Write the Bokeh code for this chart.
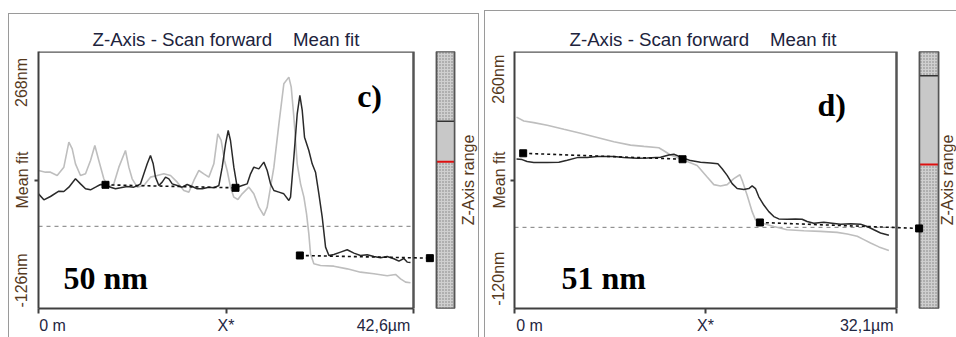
import math
from bokeh.plotting import figure
from bokeh.layouts import row
from bokeh.models import Range1d, FixedTicker, Title, InlineStyleSheet
from bokeh.core.properties import value
from bokeh.embed import file_html
from bokeh.resources import INLINE

# ---------------- data: panel c ----------------
c_title = "Z-Axis - Scan forward\u00a0\u00a0\u00a0\u00a0Mean fit"
c_x_max = 42.6
c_y_min, c_y_max = -126, 268
c_x_tick_labels = ["0 m", "X*", "42,6µm"]
c_x_label_pos = [1.6, 21.3, 39.2]
c_y_tick_labels = ["268nm", "Mean fit", "-126nm"]
c_y_label_pos = [220.5, 71.0, -83.0]
c_black_x = [0.0, 0.61, 1.36, 2.31, 2.88, 3.45, 4.20, 4.77, 5.34, 5.91, 6.48, 7.04, 7.61, 8.18, 8.75,
             9.32, 10.07, 10.83, 11.21, 11.59, 11.97, 12.35, 12.72, 13.03, 13.29, 13.67, 14.05, 14.43,
             14.81, 15.19, 15.76, 16.32, 16.89, 17.46, 18.03, 18.60, 19.35, 19.92, 20.49, 20.87, 21.25,
             21.55, 21.81, 22.19, 22.57, 23.14, 23.71, 24.09, 24.46, 25.03, 25.60, 25.98, 26.36, 26.74,
             27.31, 27.87, 28.44, 28.63, 29.01, 29.39, 29.69, 29.96, 30.22, 30.71, 31.09, 31.47, 31.85,
             32.23, 32.61, 32.99, 33.55, 34.31, 35.07, 35.83, 36.58, 37.34, 38.10, 38.86, 39.61, 40.37,
             40.94, 41.51, 41.88, 42.26]
c_black_y = [49.8, 40.6, 45.7, 53.9, 53.4, 60.0, 72.8, 65.1, 57.5, 55.9, 60.0, 64.1, 63.6, 60.0, 57.5,
             59.0, 61.1, 60.0, 62.1, 65.1, 80.5, 95.8, 108.6, 95.8, 75.4, 62.6, 67.7, 75.4,
             72.8, 65.1, 62.6, 60.0, 64.1, 61.1, 57.5, 57.5, 60.0, 59.0, 62.6, 90.7, 126.5,
             146.9, 131.6, 90.7, 60.0, 62.6, 65.1, 80.5, 90.7, 88.1, 98.4, 85.6, 65.1, 54.9,
             52.4, 49.8, 39.6, 44.7, 106.0, 172.5, 200.6, 177.6, 136.7, 116.2, 95.8, 83.0, 49.8,
             14.0, -31.9, -44.7, -43.2, -39.6, -36.0, -41.1, -44.7, -43.7, -46.3, -48.3, -46.3, -49.8,
             -53.4, -49.3, -54.9, -55.4]
c_gray_x = [0.0, 0.80, 1.36, 2.12, 2.88, 3.45, 3.83, 4.20, 4.77, 5.34, 5.91, 6.40, 6.85, 7.42, 7.99,
            8.56, 9.13, 9.88, 10.26, 10.64, 11.21, 11.97, 12.72, 13.48, 14.24, 15.00, 15.76, 16.51,
            17.08, 17.65, 18.22, 18.78, 19.35, 19.92, 20.37, 20.75, 21.13, 21.43, 21.81, 22.19, 22.65,
            23.14, 23.90, 24.46, 25.03, 25.60, 25.98, 26.36, 26.74, 27.31, 27.87, 28.44, 28.71, 29.01,
            29.39, 29.77, 30.15, 30.45, 30.71, 30.90, 31.28, 32.04, 33.55, 35.07, 36.58, 38.10, 39.61,
            40.56, 41.13, 41.70, 42.26]
c_gray_y = [85.6, 83.0, 83.0, 77.9, 90.7, 129.0, 118.8, 95.8, 77.9, 80.5, 100.9, 123.9, 100.9, 72.8, 60.0,
            65.1, 90.7, 116.2, 90.7, 72.8, 60.0, 62.6, 75.4, 77.9, 80.5, 77.9, 67.7, 54.9,
            52.4, 70.3, 85.6, 80.5, 75.4, 95.8, 141.8, 131.6, 100.9, 85.6, 60.0, 44.7, 41.1,
            49.8, 60.0, 49.8, 29.4, 16.6, 29.4, 60.0, 90.7, 157.1, 218.4, 228.7, 213.3, 167.3,
            95.8, 65.1, 44.7, 19.2, -11.5, -42.2, -57.5, -60.1, -61.1, -65.2, -70.3, -72.8, -75.9,
            -73.8, -80.5, -85.6, -86.6]
c_fit_upper_x = [7.61, 22.38]
c_fit_upper_y = [63.6, 59.0]
c_fit_lower_x = [29.69, 44.46]
c_fit_lower_y = [-44.7, -48.8]
c_zrange = [99.0, 161.0]
c_tag, c_tag_pos = "c)", (36.2, 200.5)
c_step, c_step_pos = "50 nm", (2.84, -78.5)

# ---------------- data: panel d ----------------
d_title = "Z-Axis - Scan forward\u00a0\u00a0\u00a0\u00a0Mean fit"
d_x_max = 32.1
d_y_min, d_y_max = -120, 260
d_x_tick_labels = ["0 m", "X*", "32,1µm"]
d_x_label_pos = [1.26, 16.05, 29.6]
d_y_tick_labels = ["260nm", "Mean fit", "-120nm"]
d_y_label_pos = [219.0, 70.0, -76.0]
d_black_x = [0.17, 0.64, 1.06, 1.62, 2.75, 3.73, 4.43, 5.27, 6.11, 6.95, 8.35, 9.19, 10.31, 11.15,
             12.27, 12.97, 13.39, 13.81, 14.23, 14.79, 15.63, 16.47, 17.09, 17.45, 17.87, 18.29,
             18.71, 19.27, 19.69, 19.97, 20.25, 20.53, 20.95, 21.37, 21.79, 22.21, 22.91, 23.61,
             24.17, 24.59, 25.15, 25.99, 26.69, 27.40, 28.24, 29.08, 29.64, 30.20, 30.76, 31.46]
d_black_y = [101.2, 100.2, 97.3, 95.8, 95.8, 96.3, 99.2, 103.1, 103.1, 104.6, 104.6, 103.1, 102.1, 102.6,
             103.6, 107.0, 108.0, 105.1, 102.1, 98.7, 96.3, 95.3, 93.9, 86.6, 76.8, 64.6,
             57.3, 55.9, 57.3, 61.2, 57.3, 45.1, 33.0, 23.2, 15.9, 12.5, 12.0, 12.5,
             12.0, 8.6, 6.2, 7.6, 6.2, 4.7, 5.2, 4.7, 1.3, -3.6, -8.4, -11.8]
d_gray_x = [0.17, 0.78, 1.62, 2.75, 4.15, 5.55, 6.95, 8.35, 9.75, 10.87, 12.13, 12.55, 13.11, 13.67,
            14.51, 15.35, 16.19, 16.75, 17.31, 17.87, 18.43, 18.94, 19.13, 19.55, 19.97, 20.25,
            20.81, 21.79, 22.91, 24.31, 25.71, 27.11, 27.96, 28.80, 29.36, 29.92, 30.62, 31.46]
d_gray_y = [163.0, 157.2, 154.8, 150.9, 145.0, 139.2, 132.9, 126.5, 121.6, 119.7, 117.7, 113.3, 107.0, 103.1,
            97.3, 91.4, 74.4, 63.2, 61.2, 63.2, 72.0, 77.8, 69.5, 47.6, 23.2, 11.1,
            6.2, 1.3, -3.6, -5.0, -6.0, -7.5, -9.9, -13.3, -18.2, -23.1, -28.9, -34.3]
d_fit_upper_x = [0.73, 14.12]
d_fit_upper_y = [109.5, 100.7]
d_fit_lower_x = [20.62, 34.00]
d_fit_lower_y = [7.2, -1.6]
d_zrange = [93.0, 224.0]
d_tag, d_tag_pos = "d)", (25.46, 181.0)
d_step, d_step_pos = "51 nm", (3.95, -74.7)

zero_level = 0.0

# ---------------- styling / layout ----------------
FONT = "Liberation Sans"
SERIF = "Liberation Serif"
LABEL_Y_COLOR = "#55391d"
LABEL_X_COLOR = "#1f2742"
TITLE_COLOR = "#20233d"
AXIS_COLOR = "#404040"
H = 337


def panel(W, left, top, box_px, frame_px, bar_px, zlabel_px, title_offset, y_standoff, frame_css,
          title, x_max, y_min, y_max, xlab_pos, xlabs, ylab_pos, ylabs,
          bx, by, gx, gy, fux, fuy, flx, fly, zrange, tag, tag_pos, step, step_pos):
    scale = x_max / box_px  # data units per px
    x_end = frame_px * scale
    p = figure(width=W, height=H, x_range=Range1d(0, x_end), y_range=Range1d(y_min, y_max),
               output_backend="svg", toolbar_location=None,
               min_border_left=left, min_border_right=0, min_border_top=top, min_border_bottom=29)
    p.outline_line_color = None
    p.xgrid.visible = False
    p.ygrid.visible = False
    p.background_fill_color = "white"
    p.border_fill_color = "white"
    p.stylesheets = [InlineStyleSheet(css=frame_css)]

    p.add_layout(Title(text=title, align="left", offset=title_offset, standoff=4,
                       text_font_size="18.7px", text_font=FONT, text_font_style="normal",
                       text_color=TITLE_COLOR), "above")

    xa = p.xaxis[0]
    xa.bounds = (0, x_max)
    xa.ticker = FixedTicker(ticks=xlab_pos, minor_ticks=[0, x_max / 2, x_max])
    xa.major_label_overrides = {v: t for v, t in zip(xlab_pos, xlabs)}
    xa.major_tick_out = 0
    xa.major_tick_in = 0
    xa.minor_tick_out = 5
    xa.minor_tick_in = 0
    xa.minor_tick_line_color = AXIS_COLOR
    xa.minor_tick_line_width = 2
    xa.axis_line_color = AXIS_COLOR
    xa.axis_line_width = 2
    xa.major_label_standoff = 3
    xa.major_label_text_font = FONT
    xa.major_label_text_font_size = "16px"
    xa.major_label_text_color = LABEL_X_COLOR

    ya = p.yaxis[0]
    ya.bounds = (y_min, y_max)
    ya.ticker = FixedTicker(ticks=ylab_pos, minor_ticks=[(y_min + y_max) / 2])
    ya.major_label_overrides = {v: t for v, t in zip(ylab_pos, ylabs)}
    ya.major_label_orientation = "vertical"
    ya.major_tick_out = 0
    ya.major_tick_in = 0
    ya.minor_tick_out = 4
    ya.minor_tick_in = 0
    ya.minor_tick_line_color = AXIS_COLOR
    ya.minor_tick_line_width = 2
    ya.axis_line_color = AXIS_COLOR
    ya.axis_line_width = 2
    ya.major_label_standoff = y_standoff
    ya.major_label_text_font = FONT
    ya.major_label_text_font_size = "16px"
    ya.major_label_text_color = LABEL_Y_COLOR

    # plot box top / right border
    p.line([0, x_max, x_max], [y_max, y_max, y_min], line_color="#555555", line_width=2.5)
    # zero reference line
    p.line([0, x_max], [zero_level, zero_level], line_color="#7c7c7c", line_width=1, line_dash="4 4")
    # profiles
    p.line(gx, gy, line_color="#bebebe", line_width=1.6)
    p.line(bx, by, line_color="#2a2a2a", line_width=1.5)
    # fit lines
    p.line(fux, fuy, line_color="#111111", line_width=1.6, line_dash="3 3")
    p.line(flx, fly, line_color="#111111", line_width=1.6, line_dash="3 3")

    # Z-axis range bar
    bl, br = bar_px[0] * scale, bar_px[1] * scale
    p.quad(left=[bl], right=[br], bottom=[y_min], top=[y_max], fill_color="#cfcfcf",
           hatch_pattern=".", hatch_color="#808080", hatch_scale=3, hatch_weight=1,
           line_color="#555555", line_width=1.5)
    p.quad(left=[bl], right=[br], bottom=[zrange[0]], top=[zrange[1]], fill_color="#c8c8c8",
           line_color=None)
    p.line([bl, br], [zrange[1], zrange[1]], line_color="#333333", line_width=1.5)
    p.line([bl, br], [zrange[0], zrange[0]], line_color="#dd1010", line_width=2)
    p.line([bl, bl, br, br, bl], [y_min, y_max, y_max, y_min, y_min], line_color="#555555", line_width=1.5)

    # fit end markers
    p.scatter(fux + flx, fuy + fly, marker="square", size=7, color="#000000")

    # labels in the plot
    p.text(x=[tag_pos[0]], y=[tag_pos[1]], text=[tag], text_font=value(SERIF),
           text_font_style="bold", text_font_size="32px", text_color="#000000",
           text_baseline="alphabetic", text_align="left")
    p.text(x=[step_pos[0]], y=[step_pos[1]], text=[step], text_font=value(SERIF),
           text_font_style="bold", text_font_size="32px", text_color="#000000",
           text_baseline="alphabetic", text_align="left")
    p.text(x=[zlabel_px * scale], y=[(y_min + y_max) / 2], text=["Z-Axis range"],
           text_font=value(FONT), text_font_size="16px", text_color=LABEL_Y_COLOR,
           angle=math.pi / 2, text_align="center", text_baseline="middle")
    return p


css_c = (":host::after { content: ''; position: absolute; left: 8px; top: 13px; width: 471px; "
         "height: 330px; border-style: solid; border-color: #9a9a9a; border-width: 1px 1px 0 1px; "
         "box-sizing: border-box; pointer-events: none; z-index: 10; }")
css_d = (":host::after { content: ''; position: absolute; left: 0px; top: 10px; width: 480px; "
         "height: 330px; border-style: solid; border-color: #9a9a9a; border-width: 1px 0 0 1px; "
         "box-sizing: border-box; pointer-events: none; z-index: 10; }")

p1 = panel(484, 38, 51, 375, 446, (398, 416), 430, 54, 4, css_c,
           c_title, c_x_max, c_y_min, c_y_max, c_x_label_pos, c_x_tick_labels,
           c_y_label_pos, c_y_tick_labels, c_black_x, c_black_y, c_gray_x, c_gray_y,
           c_fit_upper_x, c_fit_upper_y, c_fit_lower_x, c_fit_lower_y, c_zrange,
           c_tag, c_tag_pos, c_step, c_step_pos)
p2 = panel(472, 30, 48, 382, 442, (405, 424), 433, 55, 3, css_d,
           d_title, d_x_max, d_y_min, d_y_max, d_x_label_pos, d_x_tick_labels,
           d_y_label_pos, d_y_tick_labels, d_black_x, d_black_y, d_gray_x, d_gray_y,
           d_fit_upper_x, d_fit_upper_y, d_fit_lower_x, d_fit_lower_y, d_zrange,
           d_tag, d_tag_pos, d_step, d_step_pos)

layout = row(p1, p2, spacing=0)
open("out.html", "w").write(file_html(layout, INLINE))
